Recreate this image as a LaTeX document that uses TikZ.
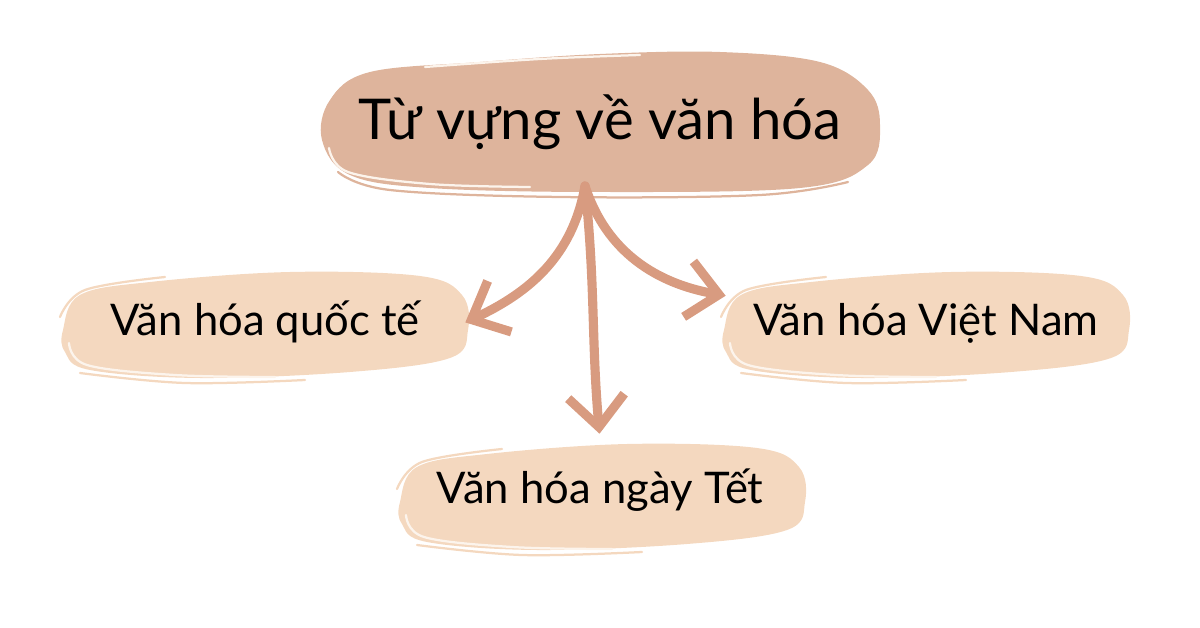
\documentclass[tikz,border=0pt]{standalone}
\usepackage{fontspec}
\setmainfont{Lato}
\usetikzlibrary{arrows.meta}
\definecolor{topicfill}{HTML}{DEB49C}
\definecolor{subfill}{HTML}{F4D8BF}
\definecolor{arrowtan}{HTML}{D89B80}
\definecolor{sketchwhite}{HTML}{FCF4EC}

\begin{document}
\begin{tikzpicture}[line cap=round,line join=round,>={Straight Barb[length=22pt,width=40pt]},x=0.025cm,y=-0.025cm,
  topicbox/.style={minimum width=13.5cm,minimum height=3.4cm,inner sep=0pt,anchor=base,font=\fontsize{40}{46}\selectfont},
  subbox/.style={minimum width=10cm,minimum height=2.5cm,inner sep=0pt,anchor=base,font=\fontsize{31}{36}\selectfont},
  sketch/.style={line width=1.6pt},
  link/.style={->,line width=6.5pt,color=arrowtan}]
\useasboundingbox (0,0) rectangle (1200,628);
% main blob
\fill[topicfill] plot[smooth cycle,tension=0.6] coordinates {(322,140) (330,100) (370,72) (480,62) (600,54) (720,52) (820,62) (868,90) (880,125) (868,165) (800,188) (600,192) (430,188) (350,175)};
\draw[sketch,color=topicfill] plot[smooth,tension=0.6] coordinates {(326,118) (345,86) (420,68)};
\draw[sketch,color=topicfill] plot[smooth,tension=0.6] coordinates {(338,172) (390,190) (560,197) (760,195) (848,182)};
\draw[sketch,color=sketchwhite] plot[smooth,tension=0.6] coordinates {(425,67) (540,59) (640,55)};
\draw[sketch,color=sketchwhite] plot[smooth,tension=0.6] coordinates {(329,148) (348,172) (430,184) (530,187)};
% small blobs
\foreach \cx/\cy in {265/325,926/325,602/497}
{
\fill[subfill,shift={(\cx,\cy)}] plot[smooth cycle,tension=0.6] coordinates {(-202,5) (-185,-30) (-115,-43) (25,-53) (155,-49) (197,-30) (203,5) (185,33) (85,47) (-65,53) (-175,45) (-200,27)};
\draw[sketch,color=subfill,shift={(\cx,\cy)}] plot[smooth,tension=0.6] coordinates {(-205,-8) (-180,-35) (-100,-48)};
\draw[sketch,color=subfill,shift={(\cx,\cy)}] plot[smooth,tension=0.6] coordinates {(-185,48) (-80,58) (40,55)};
\draw[sketch,color=sketchwhite,shift={(\cx,\cy)}] plot[smooth,tension=0.6] coordinates {(-196,18) (-178,40) (-90,50) (10,52)};
}
% labels
\node[topicbox] (topic) at (600,140) {Từ vựng về văn hóa};
\node[subbox] (intl) at (265,336) {Văn hóa quốc tế};
\node[subbox] (vn) at (926,336) {Văn hóa Việt Nam};
\node[subbox] (tet) at (600,503) {Văn hóa ngày Tết};
\coordinate (stem) at (585,186);
% links
\draw[link] (stem) to[out=-100,in=25] (intl.east);
\draw[link,shorten >=4pt] (stem) to[out=-84,in=95] (tet.north);
\draw[link] (stem) to[out=-72,in=170] (vn.172);
\end{tikzpicture}
\end{document}
